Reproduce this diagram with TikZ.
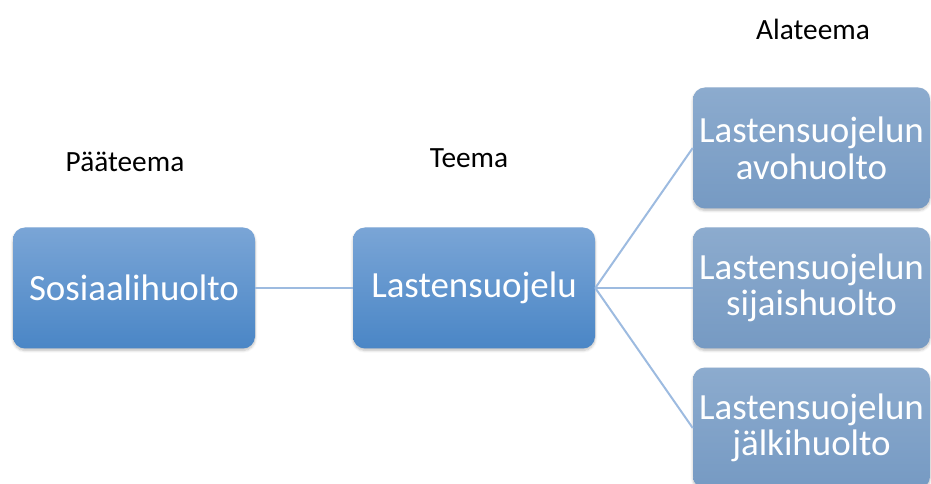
\documentclass[tikz,border=0pt]{standalone}
\usepackage{fontspec}
\setmainfont{Carlito}
\usetikzlibrary{shadows.blur}

\definecolor{maintop}{RGB}{122,165,214}
\definecolor{mainbot}{RGB}{74,134,198}
\definecolor{subtop}{RGB}{140,171,206}
\definecolor{subbot}{RGB}{118,154,195}
\definecolor{linkblue}{RGB}{157,187,224}

\tikzset{
  mainbox/.style={rounded corners=9pt, minimum width=181.5pt, minimum height=90.75pt,
    top color=maintop, bottom color=mainbot, draw=none, text=white,
    font=\fontsize{27.7}{27.5}\selectfont, align=center,
    blur shadow={shadow xshift=0pt, shadow yshift=-1.5pt, shadow opacity=25, shadow blur steps=6}},
  subbox/.style={mainbox, minimum width=177.75pt, top color=subtop, bottom color=subbot},
  heading/.style={font=\fontsize{22}{26}\selectfont, text=black},
  link/.style={draw=linkblue, line width=1.5pt}
}

\begin{document}
\begin{tikzpicture}[x=0.75pt,y=-0.75pt]
\useasboundingbox (0,0) rectangle (931,484);

% otsikot
\node[heading] (paateema) at (125,162) {Pääteema};
\node[heading] (teema) at (469,158) {Teema};
\node[heading] (alateema) at (813,29) {Alateema};

% laatikot
\node[mainbox] (sosiaali) at (134,288) {Sosiaalihuolto};
\node[mainbox] (lsuojelu) at (474,288) {Lastensuojelu};
\node[subbox] (avo) at (811.5,148) {Lastensuojelun\\avohuolto};
\node[subbox] (sijais) at (811.5,288) {Lastensuojelun\\sijaishuolto};
\node[subbox] (jalki) at (811.5,428) {Lastensuojelun\\jälkihuolto};

% viivat
\draw[link] (sosiaali.east) -- (lsuojelu.west);
\draw[link] (lsuojelu.east) -- (avo.west);
\draw[link] (lsuojelu.east) -- (sijais.west);
\draw[link] (lsuojelu.east) -- (jalki.west);

\end{tikzpicture}
\end{document}
